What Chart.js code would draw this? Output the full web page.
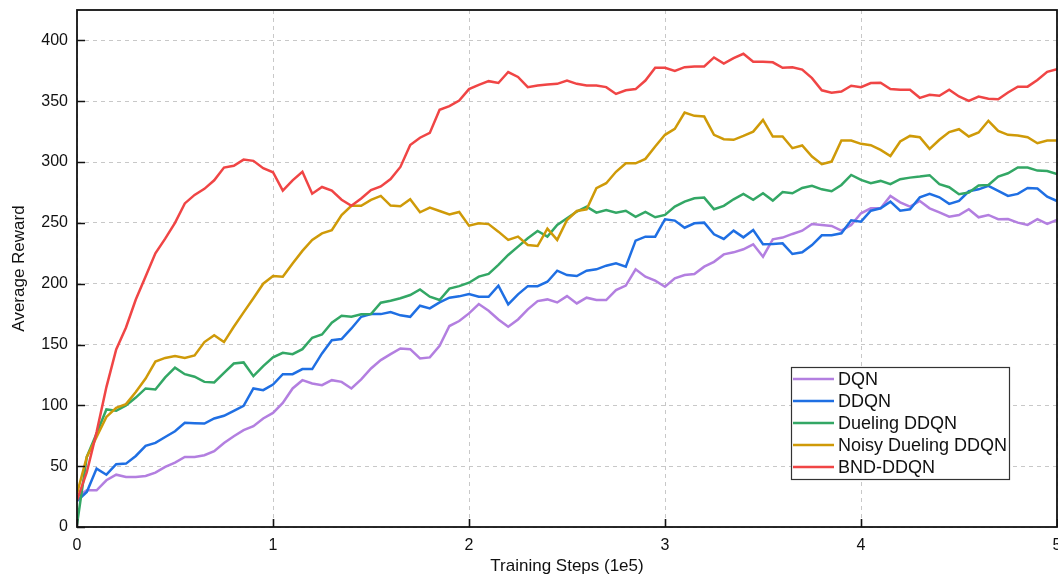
<!DOCTYPE html>
<html><head><meta charset="utf-8">
<script src="https://cdn.jsdelivr.net/npm/chart.js@4"></script>
<style>html,body{margin:0;padding:0;background:#fff;overflow:hidden}</style>
</head><body>
<canvas id="c" width="1058" height="578"></canvas>
<script>
const steps = [0,0.05,0.1,0.15,0.2,0.25,0.3,0.35,0.4,0.45,
0.5,0.55,0.6,0.65,0.7,0.75,0.8,0.85,0.9,0.95,
1,1.05,1.1,1.15,1.2,1.25,1.3,1.35,1.4,1.45,
1.5,1.55,1.6,1.65,1.7,1.75,1.8,1.85,1.9,1.95,
2,2.05,2.1,2.15,2.2,2.25,2.3,2.35,2.4,2.45,
2.5,2.55,2.6,2.65,2.7,2.75,2.8,2.85,2.9,2.95,
3,3.05,3.1,3.15,3.2,3.25,3.3,3.35,3.4,3.45,
3.5,3.55,3.6,3.65,3.7,3.75,3.8,3.85,3.9,3.95,
4,4.05,4.1,4.15,4.2,4.25,4.3,4.35,4.4,4.45,
4.5,4.55,4.6,4.65,4.7,4.75,4.8,4.85,4.9,4.95,5];
const xTicks = [0,1,2,3,4,5];
const yTicks = [0,50,100,150,200,250,300,350,400];
const seriesNames = ['DQN','DDQN','Dueling DDQN','Noisy Dueling DDQN','BND-DDQN'];
const seriesColors = ['#b37fe0','#1f6fe3','#33a765','#cf9a08','#f04545'];

const dqn = [24.7,30.2,30.2,38.4,43,41.2,41.2,42,44.7,49.4,
53,57.6,57.6,59,62.3,69.1,74.6,79.6,82.9,89.2,
93.8,102,113.9,120.7,118,116.6,120.7,119.3,113.9,121.3,
130.3,137.2,142.1,146.8,146.2,138.5,139.4,149,165.2,169.3,
175.6,183.3,177.8,170.6,164.6,170.6,178.9,185.7,187.1,184.6,
189.8,183.8,188.5,186.6,186.6,194.8,198.5,211.8,205.8,202.5,
197.5,204.4,207.1,208,214,218,224.1,225.8,228.3,232.4,
222.2,236.5,237.9,240.9,243.6,249.1,248.3,247.5,243.6,248.3,
257.9,262,262,272.2,266.9,263.4,268,262,258.7,255.1,
256.5,261.2,254.6,256.5,253,253.2,250.2,248.3,253,249.1,252.4];

const ddqn = [21.4,28.8,48,43,51.6,52.1,58.4,66.7,69.1,74,
78.7,85.6,85.3,85,89.2,91.4,95.5,99.6,113.9,112.5,
117.1,125.6,125.6,129.8,129.8,142.7,153.6,154.5,163.2,172.8,
175,175,176.7,174,172.8,181.9,179.7,184.6,188.5,189.6,
191.5,189.3,189.3,198.4,183,191.2,198,198,201.6,210.7,
207.1,206.3,210.7,211.8,214.8,216.7,214,235.4,238.7,238.7,
253,251.9,246,249.7,250.2,240.6,236.8,243.6,238.1,244.2,
232.4,232.7,233.2,224.4,225.8,231.8,239.8,239.8,241.4,252.1,
251,260,262,267.5,260,261.2,271,273.8,271,265.6,
268,276,277.6,280.4,276.3,272.2,273.8,278.7,278.2,271.6,268];

const duelingDdqn = [2,57.6,76.8,96.6,95.5,100,106.4,113.9,113,123,
131,125.6,123.5,119.3,118.8,126.7,134.4,135.3,124,132.2,
139.4,143.2,142.1,146.2,155.6,158.3,168,173.7,172.8,174.8,
175,184.4,186,188,190.7,195.3,189.3,186.6,196,198,
200.8,205.8,208,215.4,223.6,230.5,237.3,243.3,238.7,248.3,
253.8,259.3,263.4,258.4,260.6,258.4,260,255,259,254.6,
256.5,263.4,267.5,270.2,270.8,261.2,264,269.4,273.8,268.9,
274.3,268.3,275.4,274.3,278.7,280.4,277.6,276,281.2,289.4,
285.3,282.6,284.5,281.8,285.9,287.2,288.1,289.2,281.8,279.3,
273.5,274.9,280.7,281.2,288.1,290.8,295.5,295.5,293,292.7,290.2];

const noisyDuelingDdqn = [27.4,57.6,74,90.5,98,101,111,122,136,139,
140.5,139,141,152,157.7,152,164.6,176.4,188,200,
206.3,205.8,216.7,227,236,241.4,244,256.5,264,264,
268.9,272.2,264.2,263.6,269.4,258.7,262.6,259.8,257,259,
247.7,249.7,249,242.8,236,238.7,231.8,231,245.3,236,
252.4,259.8,261.2,278.5,282.6,292,299,299,302.6,312.8,
322.4,327.3,340.7,338,337.4,322.4,318.8,318.3,321.5,325,
334.7,321,321,311.4,313.6,304.5,298.2,300.4,317.7,317.7,
315,313.9,310,305,316.9,321.5,320.4,310.8,318.3,324.6,
327,321,324.3,333.9,325.6,322.4,321.8,320.4,315.5,317.7,317.7];

const bndDdqn = [22,45,78,115,146,164,187,206,225,237,
250,266,273,278,285,295.5,297,302,301,295,
291.6,276.5,285,292,274,279.5,276.5,269,264,270,
277,280,286,296,314,320,324,343,346,350.6,
360,363.5,366.5,365,374,370,361.6,363,363.8,364.3,
367,364.3,363,363,361.6,356,359,360,367,377.5,
377.5,375,378,378.6,378.6,386,381,385.5,389,382.4,
382.4,382,377.5,378,376,369,359,357,358,362.7,
361.6,365,365.2,360,359.4,359.4,352.8,355.3,354.5,359.4,
353.9,350.3,353.9,352,351.7,357.2,362,362,367.5,374.2,376.4];

const seriesValues = [dqn, ddqn, duelingDdqn, noisyDuelingDdqn, bndDdqn];
const FONT = "'Liberation Sans', Arial, Helvetica, sans-serif";

const framePlugin = {
  id: 'frame',
  afterDatasetsDraw(chart) {
    const {ctx, chartArea: a, scales} = chart;
    ctx.save();
    ctx.strokeStyle = '#111';
    ctx.lineWidth = 1.6;
    ctx.beginPath();
    yTicks.forEach(v => {
      const y = Math.round(scales.y.getPixelForValue(v)) + 0.5;
      ctx.moveTo(a.left, y); ctx.lineTo(a.left + 8, y);
    });
    xTicks.forEach(v => {
      const x = Math.round(scales.x.getPixelForValue(v)) + 0.5;
      ctx.moveTo(x, a.bottom); ctx.lineTo(x, a.bottom - 8);
    });
    ctx.stroke();
    ctx.lineWidth = 1.8;
    ctx.strokeRect(a.left, a.top, a.right - a.left, a.bottom - a.top);
    ctx.restore();
  }
};

const legendPlugin = {
  id: 'boxLegend',
  afterDraw(chart) {
    const {ctx} = chart;
    const x0 = 791, y0 = 367, w = 218, h = 112, rowH = 22;
    ctx.save();
    ctx.fillStyle = '#fff';
    ctx.fillRect(x0, y0, w, h);
    ctx.strokeStyle = '#333';
    ctx.lineWidth = 1.2;
    ctx.strokeRect(x0 + 0.5, y0 + 0.5, w, h);
    ctx.font = '18px ' + FONT;
    ctx.textBaseline = 'middle';
    ctx.textAlign = 'left';
    chart.data.datasets.forEach((ds, i) => {
      const cy = y0 + 12 + i * rowH;
      ctx.strokeStyle = ds.borderColor;
      ctx.lineWidth = 2.6;
      ctx.beginPath();
      ctx.moveTo(x0 + 2, cy); ctx.lineTo(x0 + 43, cy);
      ctx.stroke();
      ctx.fillStyle = '#111';
      ctx.fillText(ds.label, x0 + 47, cy + 1);
    });
    ctx.restore();
  }
};

const datasets = seriesNames.map((name, i) => ({
  label: name,
  data: seriesValues[i],
  borderColor: seriesColors[i],
  backgroundColor: seriesColors[i],
  borderWidth: 2.5,
  pointRadius: 0,
  tension: 0,
  fill: false,
  order: seriesNames.length - i
}));

new Chart(document.getElementById('c'), {
  type: 'line',
  data: { labels: steps, datasets },
  options: {
    responsive: false,
    animation: false,
    events: [],
    layout: { padding: { left: 0, right: 1, top: 10, bottom: 0 } },
    plugins: { legend: { display: false }, tooltip: { enabled: false } },
    scales: {
      x: {
        type: 'linear',
        min: 0, max: 5,
        afterFit(s) { s.height = 51; s.paddingLeft = 0; s.paddingRight = 0; },
        afterBuildTicks(s) { s.ticks = xTicks.map(v => ({ value: v })); },
        grid: { color: '#c8c8c8', lineWidth: 1, drawTicks: false },
        border: { display: false, dash: [4, 4] },
        ticks: { padding: 9, color: '#111', font: { size: 16, family: FONT }, maxRotation: 0,
                 callback: v => String(v) },
        title: { display: true, text: 'Training Steps (1e5)', color: '#111',
                 font: { size: 17, family: FONT }, padding: { top: 0, bottom: 1 } }
      },
      y: {
        min: 0, max: 425,
        afterFit(s) { s.width = 77; s.paddingTop = 0; s.paddingBottom = 0; },
        afterBuildTicks(s) { s.ticks = yTicks.map(v => ({ value: v })); },
        grid: { color: '#c8c8c8', lineWidth: 1, drawTicks: false },
        border: { display: false, dash: [4, 4] },
        ticks: { padding: 9, color: '#111', font: { size: 16, family: FONT },
                 callback: v => String(v) },
        title: { display: true, text: 'Average Reward', color: '#111',
                 font: { size: 17, family: FONT }, padding: { top: 9, bottom: 0 } }
      }
    }
  },
  plugins: [framePlugin, legendPlugin]
});
</script>
</body></html>
